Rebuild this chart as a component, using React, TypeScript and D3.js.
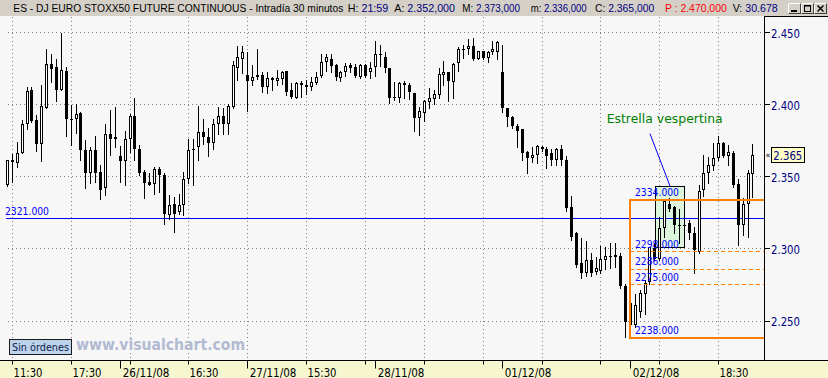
import React from 'react';
import * as d3 from 'd3';

// ---- data ----
const opens = [2344,2361.5,2359.5,2366.5,2386.5,2410,2389.5,2373,2397.5,2428,2426,2410,2423.5,2390,2390,2394,2368.5,2353,2368.5,2353.5,2342,2379.5,2376,2364.5,2361,2376,2392,2369,2353.5,2346.5,2345,2355.5,2351,2323.5,2331,2325.5,2330.5,2348.5,2369.5,2370.5,2381,2377.5,2373.5,2386.5,2392,2387,2398.5,2425.5,2432,2421,2416.5,2419,2421,2412,2418.5,2416.5,2418,2423.5,2410,2405,2415,2412,2412,2415,2420,2430,2432,2427.5,2418.5,2422.5,2427.5,2426.5,2419,2427.5,2422.5,2426,2435,2433,2425.5,2405.5,2404.5,2415,2414,2408.5,2391,2394.5,2402,2404,2407,2421,2422.5,2416,2429,2438.5,2439,2441,2432,2437,2432.5,2436.5,2436.5,2422.5,2397.5,2391.5,2385,2383,2367,2363,2365,2370.5,2369,2366.5,2361.5,2369.5,2361.5,2329,2311,2290,2283,2292.5,2284,2285,2292.5,2294.5,2296,2295,2274,2262.5,2247,2256,2269,2277,2300.5,2293,2314.5,2331,2329,2316.5,2316.5,2318,2311,2298,2341,2352.5,2357.5,2363,2373.5,2364.5,2366.5,2345,2316.5,2331,2352];
const highs = [2362,2366,2374,2389.5,2412,2412.5,2393,2413.5,2438.5,2435.5,2432,2450,2426,2400,2400.5,2395,2375.5,2371,2378,2358.5,2386.5,2396.5,2398.5,2371.5,2381.5,2393.5,2405,2372,2355,2352.5,2356.5,2357,2352.5,2337.5,2336,2338,2353.5,2376,2376,2399,2390,2384,2390,2398.5,2398,2400.5,2430.5,2440.5,2440.5,2436.5,2427.5,2438.5,2423,2423,2419.5,2424,2423.5,2423.5,2415,2415.5,2416.5,2417,2419,2423,2435.5,2435,2435.5,2428.5,2423.5,2429,2429,2428.5,2428.5,2428,2430,2444,2441.5,2436.5,2425.5,2416,2415.5,2416.5,2415,2408.5,2398.5,2403.5,2411.5,2410,2425.5,2430.5,2423,2429,2440,2441.5,2445.5,2446,2437.5,2437.5,2437.5,2444,2444,2441.5,2398,2392,2386.5,2383.5,2368,2371,2372,2371.5,2370.5,2369.5,2370,2372,2364.5,2336.5,2311.5,2307.5,2305.5,2297,2294.5,2302,2301.5,2304,2304,2297.5,2275.5,2262.5,2269,2271.5,2278.5,2301.5,2304,2322,2334.5,2335,2330,2328,2320,2320,2315.5,2344.5,2365,2363.5,2373.5,2378.5,2374.5,2372,2368,2348.5,2335.5,2355,2373];
const lows = [2343.5,2346.5,2357,2366.5,2383.5,2388,2368,2361,2397.5,2416,2402.5,2410,2378,2372,2380.5,2361.5,2342,2345.5,2346.5,2334.5,2337.5,2365,2371,2346.5,2344.5,2367.5,2362,2351.5,2335.5,2344,2338,2339.5,2317.5,2321,2312,2324.5,2323.5,2346,2344,2362,2373,2364.5,2369.5,2380,2380,2380,2398,2417,2422,2395.5,2413.5,2418,2409,2408,2410,2413.5,2414.5,2407,2405,2404.5,2405.5,2407.5,2410,2414.5,2419.5,2423.5,2422.5,2417.5,2416.5,2420,2423,2419.5,2418.5,2419.5,2418.5,2420,2427,2422.5,2401,2403.5,2402,2405,2404,2382,2379,2388.5,2398,2400.5,2405,2413.5,2402.5,2405,2423.5,2432.5,2435.5,2431,2431.5,2432,2429.5,2435.5,2431.5,2395,2385,2384,2371,2362,2352.5,2360.5,2359.5,2368,2356,2358,2358,2358,2326,2306,2287.5,2280,2281,2281,2282.5,2283,2286,2287,2287.5,2273,2239,2238,2246,2253,2255,2276,2292,2292,2308.5,2326,2311,2304,2313,2307,2283.5,2297.5,2336.5,2345.5,2355,2361.5,2364,2358,2343,2302.5,2309.5,2308.5,2336];
const closes = [2361.5,2360,2366.5,2386.5,2409.5,2389,2373,2399,2428,2425,2410,2424,2390,2389.5,2393.5,2368.5,2353,2368.5,2353,2341,2379.5,2376,2377.5,2361,2376,2392,2369,2353,2346,2344.5,2355.5,2351,2324,2330.5,2324,2330.5,2348.5,2368.5,2368.5,2381,2377.5,2373.5,2386.5,2392,2387,2399,2427.5,2433,2436.5,2416.5,2419,2421,2412,2418.5,2417,2418.5,2422.5,2409,2405.5,2415,2413.5,2413.5,2415.5,2419,2429.5,2433,2427,2419,2422.5,2427,2425.5,2420,2427.5,2420,2425.5,2435,2434.5,2425.5,2405,2404.5,2415,2414,2409,2391,2396,2402.5,2405,2407.5,2421.5,2423,2416.5,2428.5,2438.5,2439,2441,2431.5,2437,2432.5,2436.5,2438.5,2443.5,2397.5,2391.5,2385,2382,2366.5,2363,2365,2371.5,2369,2364.5,2361.5,2369,2361.5,2328.5,2308.5,2289,2283,2292.5,2283.5,2286.5,2293,2295,2295,2294.5,2274,2249.5,2247,2261,2269.5,2276.5,2301,2293,2314.5,2333,2328,2316.5,2316,2316,2311,2299,2340,2352.5,2358,2363,2373.5,2364.5,2367,2344.5,2316.5,2331,2352.5,2365];

const timeTickIdx = [1, 13, 37, 61, 145];
const timeTickText = ['11:30', '17:30', '16:30', '15:30', '18:30'];
const dayTickIdx = [23, 49, 75, 101, 127];
const dayTickText = ['26/11/08', '27/11/08', '28/11/08', '01/12/08', '02/12/08'];
const priceTicks = [2450, 2400, 2350, 2300, 2250];
const priceTickText = ['2.450', '2.400', '2.350', '2.300', '2.250'];

const supportLevel = 2321;
const boxStartIdx = 127;
const boxHigh = 2334;
const boxLow = 2238;
const dashedLevels = [2298, 2286, 2275];
const lastPrice = 2365;
const patternIdx = [132.2, 138.1];
const patternPrice = [2301, 2343.5];
const noteFrom = [131, 2380];
const noteTo = [135.1, 2343.5];

const titleMain = 'ES - DJ EURO STOXX50 FUTURE CONTINUOUS - Intradía 30 minutos';
const statLabels = ['H:', 'A:', 'M:', 'm:', 'C:', 'V:'];
const statValues = ['21:59', '2.352,000', '2.373,000', '2.336,000', '2.365,000', '30.678'];
const projText = 'P : 2.470,000';

const FONT = 'DejaVu Sans, Verdana, sans-serif';
const TFONT = 'Liberation Sans, Arial, sans-serif';
const NAVY = '#000080';

export default function App() {
  const n = closes.length;
  const W = 828, H = 378;
  const axisX = 764, axisY = 360, plotTop = 17;
  const x = d3.scaleLinear().domain([0, n - 1]).range([7.4, 7.4 + 4.905 * (n - 1)]);
  const y = d3.scaleLinear().domain([2250, 2450]).range([321, 32.7]);
  const px = (k: number) => Math.floor(x(k)) + 0.5;
  const py = (p: number) => Math.floor(y(p)) + 0.5;
  const gridIdx = d3.range(1, n, 12);

  // title layout (x start, total width)
  const statPos = [[347.7, 40.6], [394.3, 60.7], [462.3, 57.7], [530.7, 56], [595, 59.3], [732.7, 45]];

  const boxX = px(boxStartIdx) - 0.5;

  return (
    <svg width={W} height={H} style={{ position: 'absolute', left: 0, top: 0, display: 'block' }} fontFamily={FONT}>
      {/* backgrounds */}
      <rect x={0} y={0} width={W} height={H} fill="#f7f7f7" />
      <rect x={0} y={0} width={W} height={plotTop - 1} fill="#d4d0c8" />
      <rect x={0} y={axisY} width={W} height={H - axisY} fill="#f6f6cf" />

      {/* title */}
      <g fontFamily={TFONT} fontSize={10.5}>
        <text x={13.3} y={12} fontSize={10} fill="#000" textLength={330} lengthAdjust="spacingAndGlyphs">{titleMain}</text>
        {statLabels.map((s, i) => (
          <text key={'st' + i} x={statPos[i][0]} y={12} fill="#000" textLength={statPos[i][1]} lengthAdjust="spacingAndGlyphs">
            {s + ' '}<tspan fill={NAVY}>{statValues[i]}</tspan>
          </text>
        ))}
        <text x={665} y={12} fill="#ff0000" textLength={61.7} lengthAdjust="spacingAndGlyphs">{projText}</text>
      </g>

      {/* window buttons */}
      {[788, 801, 814].map((bx, i) => (
        <g key={'btn' + i}>
          <rect x={bx + 0.5} y={3.5} width={12} height={10} fill="#d4d0c8" stroke="#404040" />
          <line x1={bx + 0.5} y1={3.5} x2={bx + 12.5} y2={3.5} stroke="#fff" />
          <line x1={bx + 0.5} y1={3.5} x2={bx + 0.5} y2={13.5} stroke="#fff" />
          {i === 0 && <rect x={bx + 3} y={10} width={6} height={2} fill="#000" />}
          {i === 1 && <rect x={bx + 3.5} y={5.5} width={6} height={6} fill="none" stroke="#000" />}
          {i === 1 && <line x1={bx + 3} y1={6} x2={bx + 10} y2={6} stroke="#000" />}
          {i === 2 && <path d={`M${bx + 3.5},5.5 L${bx + 9.5},11.5 M${bx + 9.5},5.5 L${bx + 3.5},11.5`} stroke="#000" strokeWidth={1.4} />}
        </g>
      ))}

      {/* grid */}
      {priceTicks.map((p) => (
        <line key={'hg' + p} x1={8} x2={axisX} y1={py(p)} y2={py(p)} stroke="#808080" strokeDasharray="1,3" />
      ))}
      {gridIdx.map((k) => (
        <line key={'vg' + k} x1={px(k)} x2={px(k)} y1={plotTop} y2={axisY} stroke="#808080" strokeDasharray="1,3" />
      ))}

      {/* pattern highlight */}
      <rect x={Math.floor(x(patternIdx[0])) + 0.5} y={py(patternPrice[1])}
        width={Math.round(x(patternIdx[1]) - x(patternIdx[0]))}
        height={Math.round(y(patternPrice[0]) - y(patternPrice[1]))}
        fill="#dcf5dc" stroke="#000" />

      {/* support line */}
      <line x1={6} x2={axisX} y1={py(supportLevel)} y2={py(supportLevel)} stroke="#0000ff" />

      {/* candles */}
      {closes.map((c, k) => {
        const o = opens[k], h = highs[k], l = lows[k];
        const cx = px(k);
        const top = Math.round(y(Math.max(o, c)));
        const bot = Math.round(y(Math.min(o, c)));
        const up = c > o;
        return (
          <g key={'c' + k}>
            <line x1={cx} x2={cx} y1={Math.round(y(h))} y2={Math.round(y(l)) + 1} stroke="#000" />
            {up && bot - top >= 2 ? (
              <rect x={cx - 1} y={top + 0.5} width={2} height={bot - top - 1} fill="#fff" stroke="#000" />
            ) : (
              <rect x={cx - 1.5} y={top} width={3} height={Math.max(bot - top, 1)} fill="#000" />
            )}
          </g>
        );
      })}

      {/* orange range box */}
      <path d={`M${axisX},${Math.round(y(boxHigh))} H${boxX} V${Math.round(y(boxLow))} H${axisX}`} fill="none" stroke="#ff8000" strokeWidth={2} />
      {dashedLevels.map((p) => (
        <line key={'dl' + p} x1={boxX} x2={axisX} y1={py(p)} y2={py(p)} stroke="#ff8000" strokeDasharray="4,3" />
      ))}

      {/* level labels */}
      <text x={5} y={Math.round(y(supportLevel)) - 4} fontSize={11} fill="#0000ff" textLength={44} lengthAdjust="spacingAndGlyphs">{supportLevel.toFixed(3)}</text>
      {[boxHigh, ...dashedLevels, boxLow].map((p) => (
        <text key={'lb' + p} x={635} y={Math.round(y(p)) - 4} fontSize={11} fill="#0000ff" textLength={44} lengthAdjust="spacingAndGlyphs">{p.toFixed(3)}</text>
      ))}

      {/* annotation */}
      <line x1={x(noteFrom[0])} y1={y(noteFrom[1])} x2={x(noteTo[0])} y2={y(noteTo[1])} stroke="#0000ff" />
      <text x={606.7} y={122.5} fontSize={13} fill="#008000" textLength={116} lengthAdjust="spacingAndGlyphs">Estrella vespertina</text>

      {/* right axis */}
      <line x1={axisX + 0.5} x2={axisX + 0.5} y1={plotTop - 1} y2={axisY} stroke="#000" />
      <line x1={axisX} x2={W} y1={plotTop - 0.5} y2={plotTop - 0.5} stroke="#000" />
      {priceTicks.map((p, i) => (
        <g key={'yt' + p}>
          <line x1={axisX} x2={axisX + 6} y1={py(p)} y2={py(p)} stroke="#000" />
          <text x={771} y={Math.round(y(p)) + 4.5} fontSize={11.5} fill={NAVY} textLength={29} lengthAdjust="spacingAndGlyphs">{priceTickText[i]}</text>
        </g>
      ))}
      <rect x={771.5} y={Math.round(y(lastPrice)) - 7.5} width={33} height={15} fill="#ffffc8" stroke="#000" />
      <text x={773.3} y={Math.round(y(lastPrice)) + 5} fontSize={11.5} fill={NAVY} textLength={29} lengthAdjust="spacingAndGlyphs">{d3.format(',.0f')(lastPrice).replace(',', '.')}</text>
      <text x={765.5} y={Math.round(y(lastPrice)) + 3} fontSize={8} fill="#000">«</text>

      {/* bottom axis */}
      <line x1={0} x2={W} y1={axisY + 0.5} y2={axisY + 0.5} stroke="#000" />
      {gridIdx.map((k) => (
        <line key={'xt' + k} x1={px(k)} x2={px(k)} y1={axisY} y2={axisY + 4.5} stroke="#000" />
      ))}
      {dayTickIdx.map((k) => (
        <line key={'dt' + k} x1={px(k)} x2={px(k)} y1={axisY} y2={axisY + 8.5} stroke="#000" />
      ))}
      {timeTickIdx.map((k, i) => (
        <text key={'tl' + k} x={px(k) + 1} y={376.5} fontSize={11.5} fill="#000" textLength={29} lengthAdjust="spacingAndGlyphs">{timeTickText[i]}</text>
      ))}
      {dayTickIdx.map((k, i) => (
        <text key={'dl' + k} x={px(k) + 2.2} y={376.5} fontSize={11.5} fill="#000" textLength={46.7} lengthAdjust="spacingAndGlyphs">{dayTickText[i]}</text>
      ))}

      {/* footer widgets */}
      <text x={76} y={349.5} fontSize={15} fontWeight="bold" fill="#b2bad2" textLength={169} lengthAdjust="spacingAndGlyphs">www.visualchart.com</text>
      <rect x={9.5} y={339.5} width={62} height={15} fill="#bcd3ec" stroke="#1a1a1a" />
      <text x={12} y={351} fontSize={11} fill="#10204a" textLength={57} lengthAdjust="spacingAndGlyphs">Sin órdenes</text>
    </svg>
  );
}
